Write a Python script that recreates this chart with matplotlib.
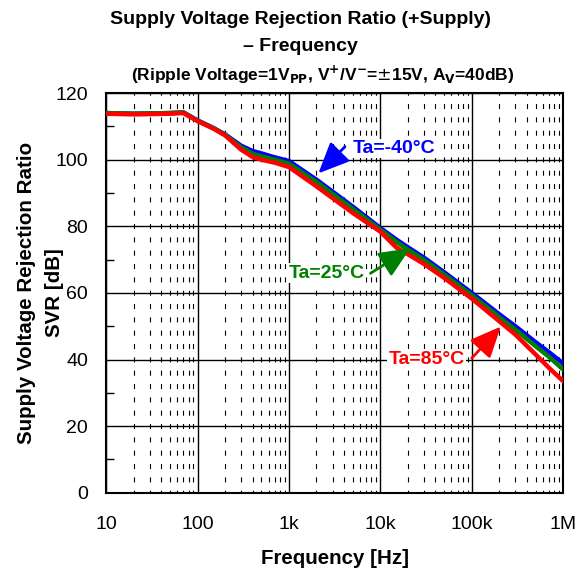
import matplotlib
matplotlib.use("Agg")
import matplotlib.pyplot as plt
from matplotlib.ticker import FixedLocator, NullFormatter

plt.rcParams['font.family'] = ['Liberation Sans', 'DejaVu Sans']

# frequency [Hz]
freq = [10, 20, 50, 70, 100, 150, 200, 300, 400, 500, 700, 1e3, 2e3, 5e3,
        1e4, 1.5e4, 2e4, 3e4, 5e4, 1e5, 2e5, 3e5, 5e5, 7e5, 1e6]
# SVR [dB]
svr_m40 = [114.0, 113.8, 114.0, 114.2, 111.8, 109.5, 107.6, 104.2, 102.6, 101.9, 100.7, 99.6,
           94.0, 85.9, 79.5, 76.0, 73.7, 70.6, 66.2, 60.0, 53.6, 50.0, 45.2, 42.2, 38.8]
svr_25 = [114.0, 113.8, 114.0, 114.2, 111.7, 109.4, 107.5, 103.7, 101.8, 101.0, 100.0, 98.8,
          93.3, 85.2, 79.0, 75.3, 73.0, 69.9, 65.5, 59.3, 52.7, 49.0, 44.0, 40.8, 37.0]
svr_85 = [113.8, 113.6, 113.8, 114.0, 111.6, 109.3, 107.3, 103.0, 100.8, 100.0, 99.1, 97.8,
          92.0, 84.0, 78.4, 73.6, 71.6, 68.7, 64.5, 58.3, 51.5, 47.5, 41.5, 37.5, 33.5]

fig = plt.figure(figsize=(5.83, 5.71), dpi=100)
ax = fig.add_axes([0.182, 0.137, 0.784, 0.700])

ax.plot(freq, svr_m40, color='#0000ff', lw=3.2, solid_joinstyle='round', zorder=3)
ax.plot(freq, svr_25, color='#008000', lw=3.2, solid_joinstyle='round', zorder=4)
ax.plot(freq, svr_85, color='#ff0000', lw=3.2, solid_joinstyle='round', zorder=5)

ax.set_xscale('log')
ax.set_xlim(10, 1e6)
ax.set_ylim(0, 120)

ax.xaxis.set_major_locator(FixedLocator([10, 100, 1e3, 1e4, 1e5, 1e6]))
ax.set_xticklabels(['10', '100', '1k', '10k', '100k', '1M'])
minors = [m * 10 ** d for d in range(1, 6) for m in range(2, 10)]
ax.xaxis.set_minor_locator(FixedLocator(minors))
ax.xaxis.set_minor_formatter(NullFormatter())
ax.set_yticks(range(0, 121, 20))
ax.set_yticks(range(10, 120, 20), minor=True)

ax.grid(which='major', color='black', lw=1.0)
ax.grid(which='minor', axis='x', color='black', lw=0.8, linestyle=(2, (4.5, 7.5)))
ax.tick_params(axis='x', which='both', length=0, pad=17, labelsize=14)
ax.tick_params(axis='y', which='major', length=0, pad=13, labelsize=14)
ax.tick_params(axis='y', which='minor', direction='in', length=6, width=1)
for s in ax.spines.values():
    s.set_linewidth(1.5)

ax.set_xlabel('Frequency [Hz]', fontsize=14.8, fontweight='bold', labelpad=11)
# two-line y label drawn as two texts
ax.set_ylabel('SVR [dB]', fontsize=14.8, fontweight='bold')
ax.yaxis.set_label_coords(-0.092, 0.5)
ax.text(-0.174, 0.5, 'Supply Voltage Rejection Ratio', transform=ax.transAxes,
        rotation=90, ha='center', va='center', fontsize=14.8, fontweight='bold')

fig.text(0.516, 0.965, 'Supply Voltage Rejection Ratio (+Supply)',
         ha='center', va='center', fontsize=14, fontweight='bold')
fig.text(0.516, 0.918, '\u2013 Frequency',
         ha='center', va='center', fontsize=14, fontweight='bold')
fig.text(0.554, 0.869,
         r'(Ripple Voltage=1V$_{\mathbf{PP}}$, V$^{\mathbf{+}}$/V$^{\mathbf{-}}$=$\pm$15V, A$_{\mathbf{V}}$=40dB)',
         ha='center', va='center', fontsize=12.5, fontweight='bold')

box = dict(facecolor='white', edgecolor='none', pad=1)
labels = [
    # text, colour, text position, arrow tail, arrow tip
    ('Ta=-40\u00b0C', '#0000ff', (1.42e4, 103.4), (4.1e3, 103.9), (2.1e3, 95.9)),
    ('Ta=25\u00b0C', '#008000', (2.6e3, 65.9), (7.8e3, 65.9), (2.12e4, 73.4)),
    ('Ta=85\u00b0C', '#ff0000', (3.2e4, 40.1), (1.0e5, 40.4), (2.08e5, 49.9)),
]
for txt, col, tpos, tail, tip in labels:
    ax.text(tpos[0], tpos[1], txt, color=col, fontsize=14, fontweight='bold',
            ha='center', va='center', bbox=box, zorder=6)
    ax.annotate('', xy=tip, xytext=tail, zorder=7,
                arrowprops=dict(arrowstyle='-|>,head_length=0.9,head_width=0.4', color=col,
                                lw=2, mutation_scale=21, shrinkA=0, shrinkB=0))

fig.savefig('out.png', dpi=100)
